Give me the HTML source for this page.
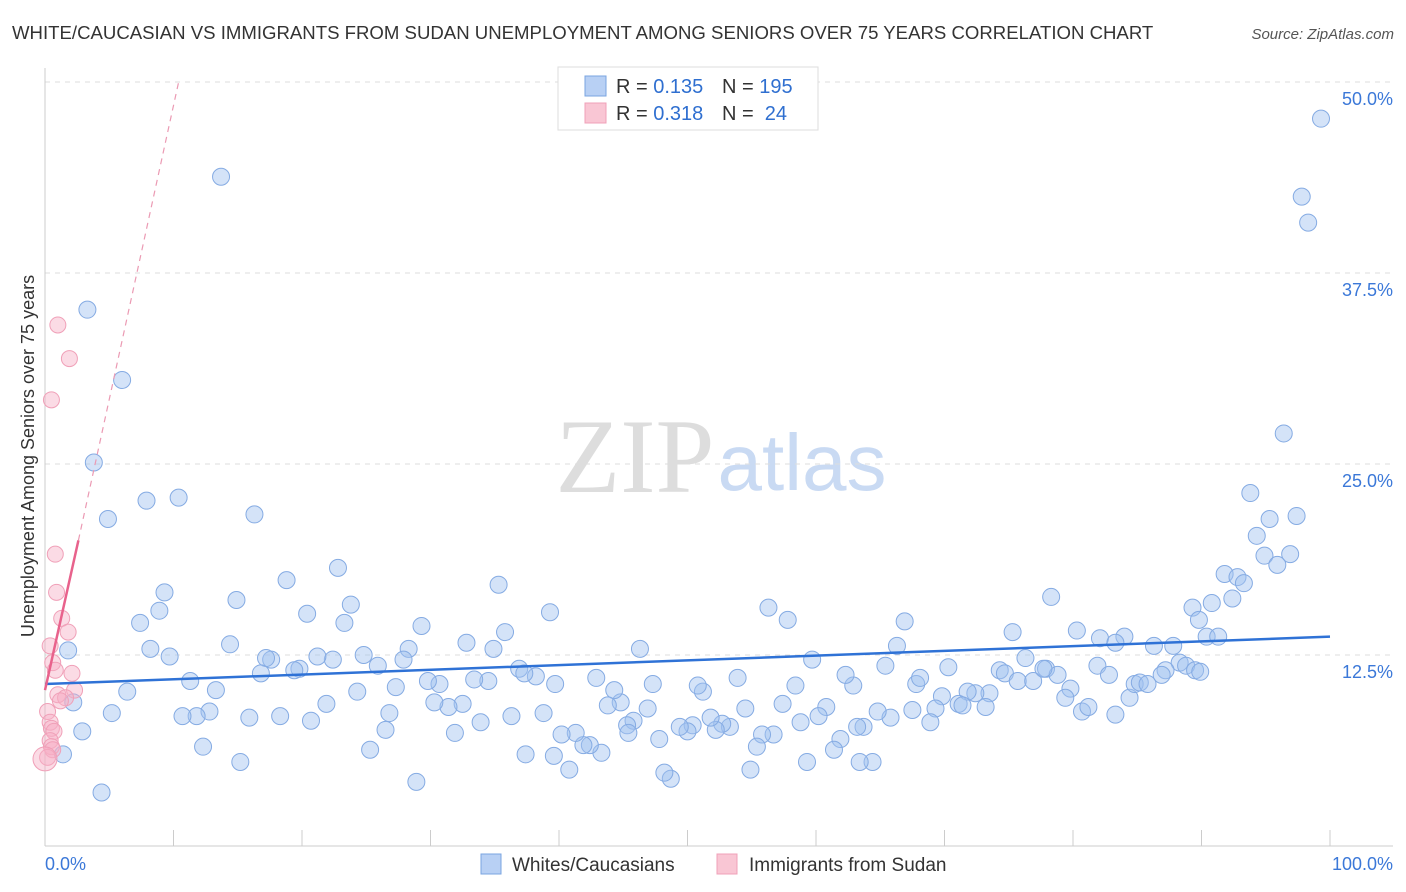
<!DOCTYPE html>
<html><head><meta charset="utf-8"><style>
body{margin:0;background:#fff;font-family:"Liberation Sans",sans-serif;}
svg{display:block}
</style></head><body>
<svg id="chart" width="1406" height="892">
<text x="12" y="39" font-size="18.6" fill="#333">WHITE/CAUCASIAN VS IMMIGRANTS FROM SUDAN UNEMPLOYMENT AMONG SENIORS OVER 75 YEARS CORRELATION CHART</text>
<text x="1394" y="39" font-size="15" fill="#555" font-style="italic" text-anchor="end">Source: ZipAtlas.com</text>
<text transform="translate(34,456) rotate(-90)" font-size="18" fill="#333" text-anchor="middle">Unemployment Among Seniors over 75 years</text>
<g>
<text x="635" y="492" font-size="106" font-family="Liberation Serif,serif" fill="#ddd" text-anchor="middle">ZIP</text>
<text x="802" y="490" font-size="80" fill="#c9daf3" text-anchor="middle">atlas</text>
</g>
<g id="grid"></g>
<g id="marks"></g>
<g>
<rect x="558" y="67" width="260" height="63" fill="#fff" stroke="#ddd"/>
<rect x="585" y="76" width="21" height="20" fill="#b8d0f4" stroke="#7aa4e0"/>
<rect x="585" y="103" width="21" height="20" fill="#f9c6d4" stroke="#f0a0b8"/>
<text x="616" y="93" font-size="20" fill="#333">R = <tspan fill="#2f6fd0">0.135</tspan></text>
<text x="722" y="93" font-size="20" fill="#333">N = <tspan fill="#2f6fd0">195</tspan></text>
<text x="616" y="120" font-size="20" fill="#333">R = <tspan fill="#2f6fd0">0.318</tspan></text>
<text x="722" y="120" font-size="20" fill="#333">N = <tspan fill="#2f6fd0">&#160;24</tspan></text>
</g>
<g>
<rect x="481" y="854" width="20" height="20" fill="#b8d0f4" stroke="#7aa4e0"/>
<text x="512" y="871" font-size="19" fill="#333">Whites/Caucasians</text>
<rect x="717" y="854" width="20" height="20" fill="#f9c6d4" stroke="#f0a0b8"/>
<text x="749" y="871" font-size="19" fill="#333">Immigrants from Sudan</text>
</g>
</svg>
<script>
const yTicks=[12.5,25,37.5,50];
const yTickLabels=["12.5%","25.0%","37.5%","50.0%"];
const xTicks=[0,10,20,30,40,50,60,70,80,90,100];
const xEndLabels=["0.0%","100.0%"];
const blueX=[13.7,3.3,6.0,3.8,4.9,7.9,10.4,16.3,99.3,97.8,98.3,96.4,93.8,95.3,97.4,94.3,94.9,96.9,95.9,91.8,92.8,93.3,92.4,90.8,89.3,89.8,90.4,91.3,88.3,88.8,87.2,87.8,86.3,84.0,82.1,80.3,75.3,78.3,76.3,74.3,74.7,75.7,76.9,77.9,78.8,79.8,79.4,80.7,81.2,81.9,82.8,83.3,84.4,84.8,85.2,85.8,86.9,73.5,73.2,72.4,71.8,71.1,71.4,69.8,69.3,68.9,67.8,68.1,70.3,67.5,66.9,66.3,65.4,65.8,64.8,63.7,63.2,62.9,62.3,64.4,61.9,61.4,60.8,60.2,59.3,58.8,58.4,57.4,57.8,56.3,59.7,56.7,55.8,55.4,54.9,54.5,53.9,53.3,52.7,52.2,51.8,51.2,50.8,50.4,50.0,49.4,48.7,48.2,47.8,47.3,46.9,46.3,45.8,45.3,44.8,44.3,43.8,43.3,42.9,42.4,41.9,41.3,40.8,40.2,39.3,39.7,38.8,38.2,37.4,36.9,36.3,35.8,35.3,34.9,34.5,33.9,33.4,32.8,32.5,31.9,31.4,30.7,30.3,29.8,29.3,28.9,28.3,27.9,27.3,26.8,26.5,25.9,25.3,24.8,24.3,23.8,23.3,22.8,22.4,21.9,21.2,20.7,20.4,19.8,19.4,18.8,18.3,17.6,17.2,16.8,15.9,15.2,14.9,14.4,13.3,12.8,12.3,11.8,10.7,11.3,9.7,9.3,8.9,8.2,7.4,6.4,5.2,2.9,1.8,2.2,1.4,4.4,39.6,83.3,89.5,37.3,45.4,77.7,63.4,89.9];
const blueY=[43.8,35.1,30.5,25.1,21.4,22.6,22.8,21.7,47.6,42.5,40.8,27.0,23.1,21.4,21.6,20.3,19.0,19.1,18.4,17.8,17.6,17.2,16.2,15.9,15.6,14.8,13.7,13.7,12.0,11.8,11.5,13.1,13.1,13.7,13.6,14.1,14.0,16.3,12.3,11.5,11.3,10.8,10.8,11.6,11.2,10.3,9.7,8.8,9.1,11.8,11.2,8.6,9.7,10.6,10.7,10.6,11.2,10.0,9.1,10.0,10.1,9.3,9.2,9.8,9.0,8.1,10.6,11.0,11.7,8.9,14.7,13.1,11.8,8.4,8.8,7.8,7.8,10.5,11.2,5.5,7.0,6.3,9.1,8.5,5.5,8.1,10.5,9.3,14.8,15.6,12.2,7.3,7.3,6.5,5.0,9.0,11.0,7.8,8.0,7.6,8.4,10.1,10.5,7.9,7.5,7.8,4.4,4.8,7.0,10.6,9.0,12.9,8.2,7.9,9.4,10.2,9.2,6.1,11.0,6.6,6.6,7.4,5.0,7.3,15.3,10.6,8.7,11.1,6.0,11.6,8.5,14.0,17.1,12.9,10.8,8.1,10.9,13.3,9.3,7.4,9.1,10.6,9.4,10.8,14.4,4.2,12.9,12.2,10.4,8.7,7.6,11.8,6.3,12.5,10.1,15.8,14.6,18.2,12.2,9.3,12.4,8.2,15.2,11.6,11.5,17.4,8.5,12.2,12.3,11.3,8.4,5.5,16.1,13.2,10.2,8.8,6.5,8.5,8.5,10.8,12.4,16.6,15.4,12.9,14.6,10.1,8.7,7.5,12.8,9.4,6.0,3.5,5.9,13.3,11.5,11.3,7.4,11.6,5.5,11.4];
const pinkX=[1.0,1.9,0.5,0.8,0.9,1.3,1.8,0.6,0.8,2.1,2.3,1.0,1.6,0.4,0.2,0.4,0.5,0.7,0.4,0.5,0.6,0.2,1.2,0.0];
const pinkY=[34.1,31.9,29.2,19.1,16.6,14.9,14.0,12.0,11.5,11.3,10.2,9.9,9.7,13.1,8.8,8.1,7.7,7.5,6.9,6.5,6.3,5.8,9.5,5.7];
const blueTrendX=[0,100];
const blueTrendY=[10.6,13.7];
const pinkTrendX=[0,2.6];
const pinkTrendY=[10.2,20.0];
const pinkDashX=[2.6,10.4];
const pinkDashY=[20.0,50.0];

const NS="http://www.w3.org/2000/svg";
const X0=45,X1=1330,Y0=846,PXPER=15.28;
function xs(v){return X0+(v/100)*(X1-X0);}
function ys(v){return Y0-v*PXPER;}
function mk(tag,attrs,parent){const e=document.createElementNS(NS,tag);for(const k in attrs)e.setAttribute(k,attrs[k]);parent.appendChild(e);return e;}
const grid=document.getElementById('grid'),marks=document.getElementById('marks');
yTicks.forEach((t,i)=>{
  const l=mk('line',{x1:X0,x2:1393,y1:ys(t),y2:ys(t),stroke:'#ddd','stroke-dasharray':'5,5'},grid);
  
  
  const tx=mk('text',{x:1393,y:ys(t)+23,'font-size':18,fill:'#3b78d8','text-anchor':'end'},grid);
  tx.textContent=yTickLabels[i];
  
  
});
const ax=mk('line',{x1:X0,x2:X0,y1:68,y2:Y0,stroke:'#ccc'},grid);


const bx=mk('line',{x1:X0,x2:1393,y1:Y0,y2:Y0,stroke:'#ccc'},grid);


xTicks.forEach(t=>{
  const l=mk('line',{x1:xs(t),x2:xs(t),y1:Y0-16,y2:Y0,stroke:'#ccc'},grid);
  
  
});
const xl0=mk('text',{x:45,y:870,'font-size':18,fill:'#3b78d8'},grid);xl0.textContent=xEndLabels[0];


const xl1=mk('text',{x:1393,y:870,'font-size':18,fill:'#3b78d8','text-anchor':'end'},grid);xl1.textContent=xEndLabels[1];


blueX.forEach((x,i)=>{
  const c=mk('circle',{cx:xs(x),cy:ys(blueY[i]),r:8.5,fill:'rgba(160,192,240,0.45)',stroke:'#85abe3','stroke-width':1},marks);
  
  
});
pinkX.forEach((x,i)=>{
  const c=mk('circle',{cx:xs(x),cy:ys(pinkY[i]),r:(i===pinkX.length-1?12:8),fill:'rgba(246,175,198,0.45)',stroke:'#f0a0b8','stroke-width':1},marks);
  
  
});
const bt=mk('line',{x1:xs(blueTrendX[0]),y1:ys(blueTrendY[0]),x2:xs(blueTrendX[1]),y2:ys(blueTrendY[1]),stroke:'#2f72d6','stroke-width':2.5},marks);


const pt=mk('line',{x1:xs(pinkTrendX[0]),y1:ys(pinkTrendY[0]),x2:xs(pinkTrendX[1]),y2:ys(pinkTrendY[1]),stroke:'#e8628c','stroke-width':2.5},marks);


const pd=mk('line',{x1:xs(pinkDashX[0]),y1:ys(pinkDashY[0]),x2:xs(pinkDashX[1]),y2:ys(pinkDashY[1]),stroke:'#eb9ab3','stroke-width':1.2,'stroke-dasharray':'6,5'},marks);


</script>
</body></html>
